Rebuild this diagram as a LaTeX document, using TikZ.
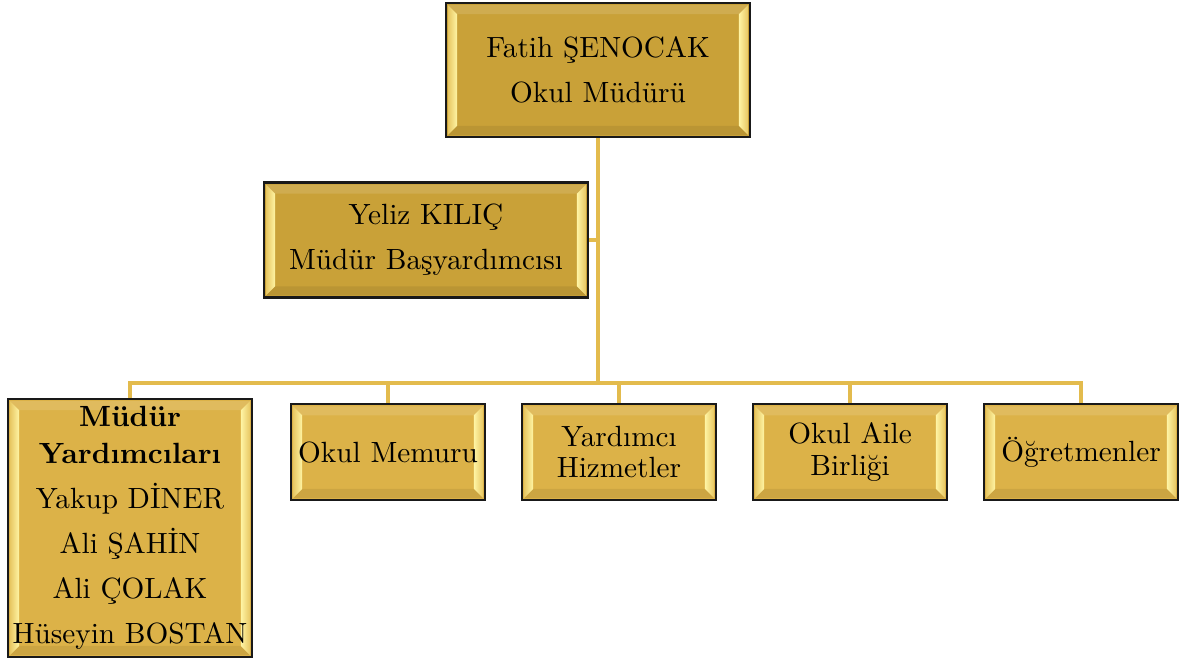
\documentclass[tikz,border=0pt]{standalone}
\usepackage{tikz}
\usetikzlibrary{calc, positioning}
\definecolor{goldtop}{RGB}{201,161,56}
\definecolor{goldlow}{RGB}{220,178,72}
\definecolor{goldline}{RGB}{227,187,77}
\definecolor{bevelhi}{RGB}{255,245,165}
\definecolor{bevello}{RGB}{232,200,100}

\tikzset{
  goldbox/.style={draw=black!90, line width=0.8pt, align=center, inner sep=1pt, text=black,
    path picture={
      \path (path picture bounding box.north west) coordinate (pnw)
            (path picture bounding box.south east) coordinate (pse);
      \fill[white, opacity=0.12] ($(pnw)+(0.8pt,-0.8pt)$) -- ($(pse|-pnw)+(-0.8pt,-0.8pt)$)
            -- ($(pse|-pnw)+(-4pt,-4pt)$) -- ($(pnw)+(4pt,-4pt)$) -- cycle;
      \fill[black, opacity=0.07] ($(pnw|-pse)+(0.8pt,0.8pt)$) -- ($(pse)+(-0.8pt,0.8pt)$)
            -- ($(pse)+(-4pt,4pt)$) -- ($(pnw|-pse)+(4pt,4pt)$) -- cycle;
      \shade[left color=bevello, right color=bevelhi] ($(pnw)+(0.8pt,-0.8pt)$) -- ($(pnw)+(4pt,-4pt)$)
            -- ($(pnw|-pse)+(4pt,4pt)$) -- ($(pnw|-pse)+(0.8pt,0.8pt)$) -- cycle;
      \shade[left color=bevelhi, right color=bevello] ($(pse|-pnw)+(-0.8pt,-0.8pt)$) -- ($(pse|-pnw)+(-4pt,-4pt)$)
            -- ($(pse)+(-4pt,4pt)$) -- ($(pse)+(-0.8pt,0.8pt)$) -- cycle;
    }},
  topbox/.style={goldbox, fill=goldtop, font=\fontsize{10.4}{13}\selectfont},
  lowbox/.style={goldbox, fill=goldlow, minimum width=2.425cm, minimum height=1.2cm,
    font=\fontsize{10.4}{11.2}\selectfont},
  link/.style={goldline, line width=1.1pt}
}

\begin{document}
\begin{tikzpicture}[x=0.0125cm, y=-0.0125cm]
\useasboundingbox (0,0) rectangle (1187,661);

% upper boxes
\node[topbox, minimum width=3.8cm, minimum height=1.675cm] (mudur) at (598,70)
  {Fatih ŞENOCAK\\[3pt]Okul Müdürü};
\node[topbox, minimum width=4.05cm, minimum height=1.4375cm] (yeliz) at (426,240)
  {Yeliz KILIÇ\\[3pt]Müdür Başyardımcısı};

% lower row
\node[topbox, fill=goldlow, minimum width=3.05cm, minimum height=3.225cm] (yardimci) at (130,528)
  {\textbf{Müdür}\\\textbf{Yardımcıları}\\[3pt]Yakup DİNER\\[3pt]Ali ŞAHİN\\[3pt]Ali ÇOLAK\\[3pt]Hüseyin BOSTAN};
\node[lowbox] (memur) at (388,452) {Okul Memuru};
\node[lowbox] (hizmet) at (619,452) {Yardımcı\\Hizmetler};
\node[lowbox] (aile) at (850,452) {Okul Aile\\Birliği};
\node[lowbox] (ogretmen) at (1081,452) {Öğretmenler};

% connectors
\coordinate (bus) at (598,383);
\draw[link] (mudur.south) -- (bus);
\draw[link] (yeliz.east) -- (yeliz.east -| mudur.south);
\foreach \n in {yardimci, memur, hizmet, aile, ogretmen}
  \draw[link] (bus) -| (\n.north);
\end{tikzpicture}
\end{document}
